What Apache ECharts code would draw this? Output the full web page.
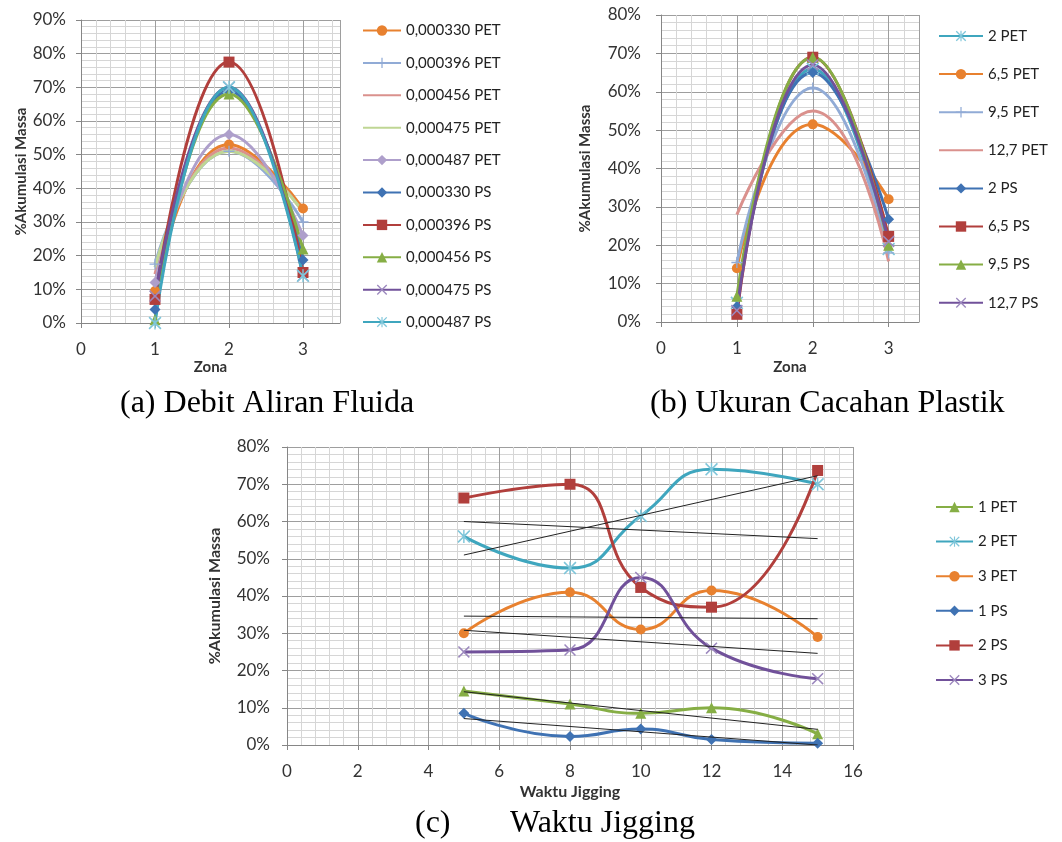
<!DOCTYPE html>
<html><head><meta charset="utf-8">
<script src="https://cdn.jsdelivr.net/npm/echarts@6/dist/echarts.min.js"></script>
<style>html,body{margin:0;padding:0;background:#fff}#c{width:1062px;height:842px}</style>
</head><body><div id="c"></div><script>
// ---------- DATA ----------
// (a) Debit Aliran Fluida
const zonesA = [1, 2, 3];
const namesA = ['0,000330 PET','0,000396 PET','0,000456 PET','0,000475 PET','0,000487 PET','0,000330 PS','0,000396 PS','0,000456 PS','0,000475 PS','0,000487 PS'];
const a330PET = [9.5, 53, 34];
const a396PET = [17.5, 51, 30];
const a456PET = [14.5, 52, 33];
const a475PET = [16.5, 51, 33];
const a487PET = [12, 56, 26];
const a330PS  = [4, 69, 18.7];
const a396PS  = [7, 77.5, 15];
const a456PS  = [1, 68, 22];
const a475PS  = [8, 70, 14];
const a487PS  = [0, 70, 14];
const yTicksA = [0, 90, 10];

// (b) Ukuran Cacahan Plastik
const zonesB = [1, 2, 3];
const namesB = ['2 PET','6,5 PET','9,5 PET','12,7 PET','2 PS','6,5 PS','9,5 PS','12,7 PS'];
const b2PET   = [5, 66, 19];
const b65PET  = [14, 51.5, 32];
const b95PET  = [15.5, 61, 18];
const b127PET = [28, 55, 15.8];
const b2PS    = [4, 65, 26.8];
const b65PS   = [2, 69, 22.3];
const b95PS   = [6.7, 69, 20];
const b127PS  = [3, 67, 21];
const yTicksB = [0, 80, 10];

// (c) Waktu Jigging
const timeC = [5, 8, 10, 12, 15];
const namesC = ['1 PET','2 PET','3 PET','1 PS','2 PS','3 PS'];
const c1PET = [14.5, 11, 8.5, 10, 3];
const c2PET = [56, 47.5, 61.5, 74, 70];
const c3PET = [30, 41, 31, 41.5, 29];
const c1PS  = [8.5, 2.3, 4.3, 1.5, 0.5];
const c2PS  = [66.3, 70, 42.3, 37, 73.7];
const c3PS  = [25, 25.5, 45, 26, 17.8];
// linear trend lines (end points read at x=5 and x=15)
const trendX = [5, 15];
const trend1PET = [14.3, 4.2];
const trend2PET = [51, 72.3];
const trend3PET = [34.6, 33.9];
const trend1PS  = [7.1, 0];
const trend2PS  = [60, 55.4];
const trend3PS  = [30.8, 24.6];
const xTicksC = [0, 16, 2];
const yTicksC = [0, 80, 10];

// ---------- STYLE ----------
const COL = {
  orange:'#E8812F', lblue:'#91ABD6', pink:'#DA918D', lgreen:'#BFD694', lav:'#AE9FCB',
  blue:'#3F72B3', red:'#B13F3C', green:'#86AE45', purple:'#71519A', teal:'#3FA6BE'
};
const MARK = { purple:'#9C88BE', teal:'#7FC6DA' };   // lighter x / asterisk markers
const SYM = {
  circle:'circle', square:'rect', diamond:'diamond', triangle:'triangle', none:'none',
  plus:'path://M4.4,0 H5.6 V4.4 H10 V5.6 H5.6 V10 H4.4 V5.6 H0 V4.4 H4.4 Z',
  x:'path://M0,0.9 L0.9,0 L5,4.1 L9.1,0 L10,0.9 L5.9,5 L10,9.1 L9.1,10 L5,5.9 L0.9,10 L0,9.1 L4.1,5 Z',
  star:'path://M0,0.9 L0.9,0 L5,4.1 L9.1,0 L10,0.9 L5.9,5 L10,9.1 L9.1,10 L5,5.9 L0.9,10 L0,9.1 L4.1,5 Z M4.45,0 H5.55 V10 H4.45 Z'
};
const SYMSIZE = {circle:10, square:11, diamond:11, triangle:11, none:0, plus:11, x:12, star:13};
const FONT = 'Lato';
const MAJ = '#9E9E9E', MIN = '#D6D6D6', AX = '#868686';
const ZW = '\u200B';   // keeps series names of chart (c) distinct from chart (b)

function mk(name, xs, ys, colKey, sym, gi) {
  const color = COL[colKey];
  const mcolor = (sym === 'x' || sym === 'star') && MARK[colKey] ? MARK[colKey] : color;
  return {
    name, type:'line', xAxisIndex:gi, yAxisIndex:gi, smooth:true,
    data: xs.map((x,i)=>[x, ys[i]]),
    symbol: SYM[sym], symbolSize: SYMSIZE[sym], showSymbol: sym !== 'none',
    lineStyle:{color, width:3}, itemStyle:{color:mcolor},
    z: 2
  };
}
function trend(name, ys) {
  return {
    name, type:'line', xAxisIndex:2, yAxisIndex:2, smooth:false, symbol:'none',
    data: trendX.map((x,i)=>[x, ys[i]]),
    lineStyle:{color:'#222', width:1}, itemStyle:{color:'#222'}, z:3, silent:true
  };
}
function xAx(gi, min, max, interval, name, gap, nameSize) {
  return {
    type:'value', gridIndex:gi, min, max, interval,
    name, nameLocation:'middle', nameGap:gap,
    nameTextStyle:{fontFamily:FONT, fontWeight:'bold', fontSize:nameSize, color:'#333'},
    axisLine:{show:true, onZero:false, lineStyle:{color:AX, width:1}},
    axisTick:{show:true, length:5, lineStyle:{color:AX}},
    axisLabel:{fontFamily:FONT, fontSize:17, color:'#333', margin:18,
      formatter:v => (Math.abs(v - Math.round(v)) < 1e-9 ? String(v) : ''), showMaxLabel: Number.isInteger(max)},
    splitLine:{show:true, lineStyle:{color:MAJ, width:1}},
    minorTick:{show:false, splitNumber:5},
    minorSplitLine:{show:true, lineStyle:{color:MIN, width:1}}
  };
}
function yAx(gi, t, gap, margin, nameSize) {
  return {
    type:'value', gridIndex:gi, min:t[0], max:t[1], interval:t[2],
    name:'%Akumulasi Massa', nameLocation:'middle', nameGap:gap, nameRotate:90,
    nameTextStyle:{fontFamily:FONT, fontWeight:'bold', fontSize:nameSize, color:'#333'},
    axisLine:{show:true, lineStyle:{color:AX, width:1}},
    axisTick:{show:true, length:5, lineStyle:{color:AX}},
    axisLabel:{fontFamily:FONT, fontSize:17, color:'#333', margin, formatter:'{value}%'},
    splitLine:{show:true, lineStyle:{color:MAJ, width:1}},
    minorTick:{show:false, splitNumber:5},
    minorSplitLine:{show:true, lineStyle:{color:MIN, width:1}}
  };
}
function legend(data, left, top, w, gap) {
  return {
    data, orient:'vertical', left, top, padding:0, itemWidth:w, itemHeight:13, itemGap:gap,
    formatter: n => n.replace(/\u200B/g, ''),
    textStyle:{fontFamily:FONT, fontSize:15, color:'#222'}, selectedMode:false
  };
}
const noSym = ['0,000456 PET','0,000475 PET','12,7 PET'];
const legData = names => names.map(n => noSym.includes(n) ? {name:n, itemStyle:{opacity:0}} : n);
const namesCs = namesC.map(n => n + ZW);

const series = [
  mk(namesA[0], zonesA, a330PET, 'orange', 'circle', 0),
  mk(namesA[1], zonesA, a396PET, 'lblue', 'plus', 0),
  mk(namesA[2], zonesA, a456PET, 'pink', 'none', 0),
  mk(namesA[3], zonesA, a475PET, 'lgreen', 'none', 0),
  mk(namesA[4], zonesA, a487PET, 'lav', 'diamond', 0),
  mk(namesA[5], zonesA, a330PS, 'blue', 'diamond', 0),
  mk(namesA[6], zonesA, a396PS, 'red', 'square', 0),
  mk(namesA[7], zonesA, a456PS, 'green', 'triangle', 0),
  mk(namesA[8], zonesA, a475PS, 'purple', 'x', 0),
  mk(namesA[9], zonesA, a487PS, 'teal', 'star', 0),

  mk(namesB[0], zonesB, b2PET, 'teal', 'star', 1),
  mk(namesB[1], zonesB, b65PET, 'orange', 'circle', 1),
  mk(namesB[2], zonesB, b95PET, 'lblue', 'plus', 1),
  mk(namesB[3], zonesB, b127PET, 'pink', 'none', 1),
  mk(namesB[4], zonesB, b2PS, 'blue', 'diamond', 1),
  mk(namesB[5], zonesB, b65PS, 'red', 'square', 1),
  mk(namesB[6], zonesB, b95PS, 'green', 'triangle', 1),
  mk(namesB[7], zonesB, b127PS, 'purple', 'x', 1),

  mk(namesCs[0], timeC, c1PET, 'green', 'triangle', 2),
  mk(namesCs[1], timeC, c2PET, 'teal', 'star', 2),
  mk(namesCs[2], timeC, c3PET, 'orange', 'circle', 2),
  mk(namesCs[3], timeC, c1PS, 'blue', 'diamond', 2),
  mk(namesCs[4], timeC, c2PS, 'red', 'square', 2),
  mk(namesCs[5], timeC, c3PS, 'purple', 'x', 2),
  trend('t1PET', trend1PET), trend('t2PET', trend2PET), trend('t3PET', trend3PET),
  trend('t1PS', trend1PS), trend('t2PS', trend2PS), trend('t3PS', trend3PS)
];

const option = {
  backgroundColor:'#fff',
  animation:false,
  grid:[
    {left:81, top:20, width:259, height:303},
    {left:661, top:15, width:258, height:307},
    {left:287, top:447, width:566, height:298}
  ],
  xAxis:[
    xAx(0, 0, 3.5, 1, 'Zona', 37, 15),
    xAx(1, 0, 3.4, 1, 'Zona', 38, 15),
    xAx(2, xTicksC[0], xTicksC[1], xTicksC[2], 'Waktu Jigging', 39, 16)
  ],
  yAxis:[
    yAx(0, yTicksA, 50, 15, 15),
    yAx(1, yTicksB, 68, 20, 15),
    yAx(2, yTicksC, 64, 17, 16)
  ],
  legend:[
    legend(legData(namesA), 362, 23, 38, 17.4),
    legend(legData(namesB), 938, 28.5, 44, 23.1),
    legend(namesCs, 935, 499.5, 37, 19.6)
  ],
  graphic:[
    {type:'text', left:120, top:388, style:{text:'(a) Debit Aliran Fluida', font:'32px "Liberation Serif"', fill:'#000'}},
    {type:'text', left:650, top:388, style:{text:'(b) Ukuran Cacahan Plastik', font:'32px "Liberation Serif"', fill:'#000'}},
    {type:'text', left:415, top:808, style:{text:'(c)', font:'32px "Liberation Serif"', fill:'#000'}},
    {type:'text', left:510, top:808, style:{text:'Waktu Jigging', font:'32px "Liberation Serif"', fill:'#000'}}
  ],
  series
};
const chart = echarts.init(document.getElementById('c'), null, {renderer:'canvas'});
chart.setOption(option);
</script></body></html>
